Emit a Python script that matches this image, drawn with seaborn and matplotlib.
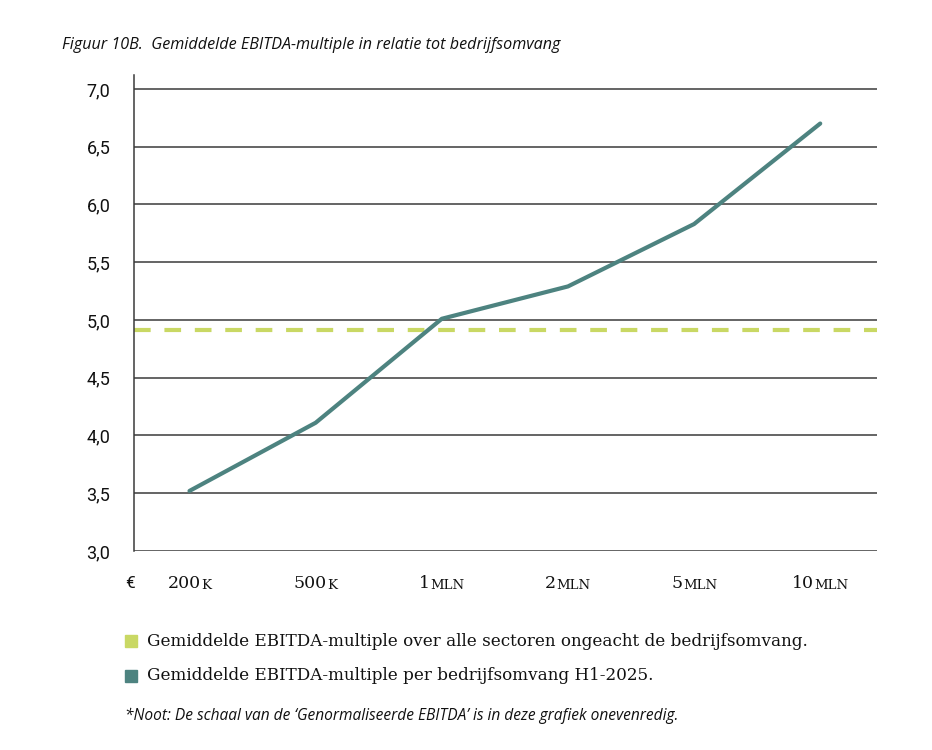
"""
Figuur 10B: gemiddelde EBITDA-multiple in relatie tot bedrijfsomvang.
"""

import pandas as pd
import matplotlib
matplotlib.use("Agg")
import matplotlib.pyplot as plt
from matplotlib.patches import Rectangle
import seaborn as sns

# data
omvang_getal = ["200", "500", "1", "2", "5", "10"]
omvang_eenheid = ["K", "K", "MLN", "MLN", "MLN", "MLN"]
multiple = [3.52, 4.11, 5.01, 5.29, 5.83, 6.70]
gemiddelde_alle_sectoren = 4.91
y_ticks = [3.0, 3.5, 4.0, 4.5, 5.0, 5.5, 6.0, 6.5, 7.0]

titel = "Figuur 10B.  Gemiddelde EBITDA-multiple in relatie tot bedrijfsomvang"
legenda = [
    "Gemiddelde EBITDA-multiple over alle sectoren ongeacht de bedrijfsomvang.",
    "Gemiddelde EBITDA-multiple per bedrijfsomvang H1-2025.",
]
noot = "*Noot: De schaal van de \u2018Genormaliseerde EBITDA\u2019 is in deze grafiek onevenredig."

KLEUR_LIJN = "#4d8380"
KLEUR_GEM = "#c9d864"
KLEUR_GRID = "#3a3a3a"

sns.set_theme(style="white")
plt.rcParams["font.family"] = ["Roboto", "DejaVu Sans"]

W, H = 932, 750
fig = plt.figure(figsize=(W / 100, H / 100), dpi=100)
ax = fig.add_axes([134 / W, 1 - 551 / H, (877 - 134) / W, (551 - 75) / H])

df = pd.DataFrame({"pos": range(len(multiple)), "multiple": multiple})

for y in y_ticks:
    ax.axhline(y, color=KLEUR_GRID, lw=1.1, zorder=1)
ax.axhline(gemiddelde_alle_sectoren, color=KLEUR_GEM, lw=3.0,
           dashes=(4, 3.3), zorder=2)
sns.lineplot(data=df, x="pos", y="multiple", color=KLEUR_LIJN, lw=3.0,
             ax=ax, zorder=3)

ax.set_xlim(-0.44, len(multiple) - 1 + 0.45)
ax.set_ylim(3.0, 7.12)
ax.set_yticks(y_ticks)
ax.set_yticklabels([f"{v:.1f}".replace(".", ",") for v in y_ticks],
                   fontsize=13, color="#111111")
ax.tick_params(axis="y", length=0, pad=17)
ax.set_xticks([])
ax.set_xlabel("")
ax.set_ylabel("")
for kant in ["top", "right", "bottom"]:
    ax.spines[kant].set_visible(False)
ax.spines["left"].set_color(KLEUR_GRID)
ax.spines["left"].set_linewidth(1.1)

# x-labels met kleinkapitalen achtervoegsel, als geheel gecentreerd
serif = ["DejaVu Serif"]
label_y = 1 - 584 / H
renderer = fig.canvas.get_renderer()
for i, (getal, eenheid) in enumerate(zip(omvang_getal, omvang_eenheid)):
    x_pix = ax.transData.transform((i, 3.0))[0]
    t1 = fig.text(0, label_y, getal, fontsize=12.5, family=serif,
                  ha="left", va="center", color="#111111")
    t2 = fig.text(0, label_y, eenheid, fontsize=9.5, family=serif,
                  ha="left", va="center", color="#111111")
    b1 = t1.get_window_extent(renderer)
    b2 = t2.get_window_extent(renderer)
    breedte1 = b1.width + 0.5
    start = x_pix - (breedte1 + b2.width) / 2
    t1.set_x(start / W)
    t2.set_x((start + breedte1) / W)
    t2.set_y(label_y - 1.2 / H)
fig.text(130 / W, label_y, "\u20ac", fontsize=12.5, ha="center",
         va="center", color="#111111")

fig.text(62 / W, 1 - 45 / H, titel, fontsize=11.6, style="italic",
         family=["Open Sans", "DejaVu Sans"], ha="left", va="center",
         color="#111111")

for tekst, kleur, ypix in zip(legenda, [KLEUR_GEM, KLEUR_LIJN], [641, 676]):
    fig.patches.append(Rectangle((125 / W, 1 - (ypix + 6) / H), 12 / W, 12 / H,
                                 transform=fig.transFigure, color=kleur))
    fig.text(147 / W, 1 - ypix / H, tekst, fontsize=12.1, family=serif,
             ha="left", va="center", color="#111111")

fig.text(125 / W, 1 - 716 / H, noot, fontsize=11.2, style="italic",
         family=["Open Sans", "DejaVu Sans"], ha="left", va="center",
         color="#111111")

fig.savefig("out.png", dpi=100, facecolor="white")
